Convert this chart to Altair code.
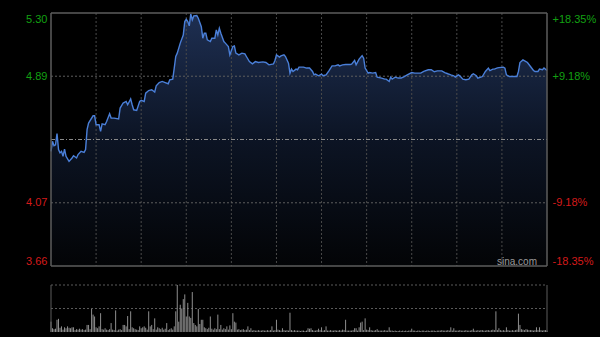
import altair as alt
import pandas as pd

# ---------------- data ----------------
minutes = [0, 1, 2, 3, 4, 5, 6, 7, 8, 9, 10, 12, 14, 15, 17, 18, 20, 22, 23, 24,
           25, 28, 29, 30, 32, 33, 34, 36, 37, 39, 40, 42, 45, 46, 48, 50, 51, 53, 54, 55,
           57, 59, 60, 62, 63, 65, 67, 69, 70, 72, 74, 76, 78, 79, 81, 82, 83, 84, 86, 88,
           89, 90, 91, 92, 93, 94, 95, 97, 98, 100, 101, 102, 103, 104, 106, 107, 109, 110, 111, 112,
           113, 115, 116, 118, 119, 121, 122, 123, 125, 127, 129, 130, 132, 134, 136, 138, 141, 143, 145, 148,
           149, 150, 152, 153, 155, 156, 158, 159, 160, 161, 163, 164, 165, 168, 170, 172, 174, 175, 176, 178,
           180, 181, 183, 185, 187, 189, 191, 192, 194, 196, 199, 200, 202, 203, 205, 207, 208, 209, 211, 212,
           214, 216, 217, 220, 222, 223, 225, 226, 227, 229, 231, 233, 235, 237, 240, 242, 244, 246, 248, 251,
           253, 255, 257, 260, 262, 264, 266, 268, 269, 271, 272, 274, 276, 278, 280, 281, 283, 284, 286, 287,
           289, 291, 292, 294, 295, 297, 298, 301, 302, 303, 305, 307, 310, 311, 312, 314, 316, 317, 319, 321,
           322, 324, 325, 327, 328, 330]

prices = [4.401, 4.466, 4.438, 4.444, 4.516, 4.412, 4.391, 4.401, 4.369, 4.416, 4.369, 4.336, 4.358, 4.373, 4.358, 4.380, 4.401, 4.394, 4.412, 4.542,
          4.585, 4.632, 4.632, 4.574, 4.574, 4.531, 4.580, 4.574, 4.595, 4.645, 4.617, 4.617, 4.611, 4.682, 4.715, 4.725, 4.704, 4.741, 4.704, 4.671,
          4.667, 4.725, 4.732, 4.725, 4.779, 4.796, 4.801, 4.786, 4.827, 4.848, 4.855, 4.848, 4.840, 4.866, 4.870, 4.942, 5.017, 5.039, 5.104, 5.157,
          5.244, 5.259, 5.244, 5.216, 5.294, 5.255, 5.281, 5.283, 5.266, 5.211, 5.136, 5.168, 5.168, 5.125, 5.114, 5.136, 5.136, 5.190, 5.157, 5.201,
          5.168, 5.114, 5.104, 5.082, 5.028, 5.082, 5.086, 5.039, 5.028, 5.039, 5.034, 5.017, 4.984, 4.969, 4.984, 4.978, 4.982, 4.978, 4.963, 4.969,
          4.991, 5.028, 5.013, 5.021, 5.028, 5.017, 4.974, 4.909, 4.935, 4.920, 4.935, 4.931, 4.948, 4.948, 4.942, 4.942, 4.920, 4.898, 4.903, 4.892,
          4.903, 4.892, 4.898, 4.926, 4.956, 4.956, 4.963, 4.956, 4.963, 4.965, 4.965, 4.967, 4.991, 4.963, 5.000, 5.023, 5.006, 4.942, 4.909, 4.913,
          4.909, 4.913, 4.883, 4.877, 4.870, 4.870, 4.855, 4.883, 4.870, 4.883, 4.877, 4.877, 4.887, 4.898, 4.913, 4.909, 4.909, 4.909, 4.920, 4.931,
          4.931, 4.918, 4.924, 4.924, 4.913, 4.905, 4.898, 4.892, 4.883, 4.898, 4.892, 4.870, 4.866, 4.870, 4.898, 4.905, 4.892, 4.877, 4.883, 4.887,
          4.920, 4.942, 4.926, 4.935, 4.935, 4.943, 4.945, 4.948, 4.942, 4.898, 4.887, 4.887, 4.887, 4.920, 4.978, 4.995, 4.984, 4.978, 4.952, 4.926,
          4.920, 4.920, 4.935, 4.931, 4.942, 4.926]

# volume per minute (minute index = position), relative units
volumes = [
    22, 8, 6, 7, 26, 28, 9, 12, 5, 10, 8, 12, 9, 8, 10, 10, 4, 6, 5, 7, 5, 6, 4, 5, 15, 15, 6, 49, 37, 33,
    10, 8, 12, 40, 6, 5, 8, 5, 4, 6, 19, 5, 4, 46, 3, 5, 6, 4, 15, 15, 12, 34, 6, 44, 10, 8, 6, 5, 4, 12,
    8, 10, 12, 9, 5, 44, 12, 15, 6, 29, 5, 10, 8, 6, 9, 5, 7, 19, 4, 6, 8, 5, 12, 44, 100, 22, 58, 50, 70, 80,
    33, 62, 33, 30, 85, 19, 15, 12, 49, 17, 26, 26, 10, 8, 6, 9, 33, 7, 5, 8, 6, 37, 6, 15, 5, 8, 6, 12, 5, 14,
    6, 40, 22, 20, 5, 6, 4, 5, 6, 4, 5, 12, 4, 8, 3, 4, 3, 3, 4, 3, 3, 4, 3, 3, 4, 3, 4, 12, 3, 4,
    26, 5, 4, 3, 8, 4, 3, 4, 3, 41, 4, 3, 4, 3, 3, 3, 2, 3, 3, 2, 3, 8, 7, 8, 4, 3, 3, 4, 7, 4,
    10, 3, 4, 12, 3, 3, 4, 3, 3, 4, 3, 3, 4, 3, 5, 4, 26, 3, 3, 3, 3, 4, 8, 8, 3, 10, 20, 22, 4, 29,
    5, 4, 10, 4, 3, 3, 4, 6, 3, 3, 3, 3, 4, 3, 3, 10, 3, 3, 2, 3, 2, 2, 3, 2, 3, 2, 3, 2, 3, 3,
    7, 3, 3, 2, 3, 3, 2, 3, 3, 2, 3, 3, 2, 3, 3, 3, 2, 3, 3, 3, 4, 3, 3, 3, 4, 3, 10, 3, 8, 3,
    3, 3, 4, 3, 3, 3, 4, 3, 3, 3, 4, 7, 3, 3, 4, 3, 4, 4, 3, 3, 4, 4, 3, 4, 5, 4, 44, 4, 8, 4,
    3, 4, 3, 10, 4, 3, 3, 4, 3, 4, 5, 39, 15, 6, 5, 4, 6, 5, 4, 4, 4, 3, 4, 10, 4, 10, 4, 3, 4, 4, 3]

prev_close = 4.478
pct_ticks = [18.35, 9.18, -9.18, -18.35]
grid_minutes = [30, 60, 90, 120, 150, 180, 210, 240, 270, 300]
session_span = [0, 330]
vol_grid = [50, 100]

# ---------------- layout ----------------
W, H = 496, 319          # whole drawing area (price panel + volume panel)
MAIN_H = 253             # price panel height
VOL_TOP = 272            # top of the volume panel, px from the top
price_ticks = [round(prev_close * (1 + p / 100), 4) for p in pct_ticks]
p_hi, p_lo = price_ticks[0], price_ticks[-1]
p_dom_lo = p_hi - (p_hi - p_lo) * H / MAIN_H
pct_dom_lo = pct_ticks[0] - (pct_ticks[0] - pct_ticks[-1]) * H / MAIN_H
vol_dom_hi = 100 * H / (H - VOL_TOP)

GREEN, RED = "#12a012", "#d41a1a"
FONT = "Liberation Sans"

xs = alt.Scale(domain=session_span, nice=False, zero=False)
ps = alt.Scale(domain=[p_dom_lo, p_hi], nice=False, zero=False)
pcs = alt.Scale(domain=[pct_dom_lo, pct_ticks[0]], nice=False, zero=False)
vs = alt.Scale(domain=[0, vol_dom_hi], nice=False, zero=False)

price_df = pd.DataFrame({"minute": minutes, "price": prices})
vol_df = pd.DataFrame({"minute": list(range(len(volumes))), "vol": volumes})
grid_df = pd.DataFrame({"minute": grid_minutes})
pct_df = pd.DataFrame({"pct": pct_ticks})
ptick_df = pd.DataFrame({"price": price_ticks})
span_df = pd.DataFrame({"minute": session_span})
volgrid_df = pd.DataFrame({"vol": vol_grid})
hgrid_df = pd.DataFrame({"price": [price_ticks[1], prev_close, price_ticks[2]]})

price_axis = alt.Axis(
    orient="left", values=price_ticks, format=".2f", title=None,
    grid=False, ticks=False, domain=False, labelPadding=4,
    labelFont=FONT, labelFontSize=11,
    labelColor={"condition": {"test": f"datum.value > {prev_close}", "value": GREEN}, "value": RED},
    labelBaseline={"condition": [{"test": f"datum.value > {p_hi - 0.01}", "value": "top"},
                                 {"test": f"datum.value < {p_lo + 0.01}", "value": "bottom"}],
                   "value": "middle"},
)

pct_axis = alt.Axis(
    orient="right", values=pct_ticks, title=None,
    labelExpr="(datum.value > 0 ? '+' : '-') + format(abs(datum.value), '.2f') + '%'",
    grid=False, ticks=False, domain=False, labelPadding=5,
    labelFont=FONT, labelFontSize=11,
    labelColor={"condition": {"test": "datum.value > 0", "value": GREEN}, "value": RED},
    labelBaseline={"condition": [{"test": f"datum.value > {pct_ticks[0] - 0.01}", "value": "top"},
                                 {"test": f"datum.value < {pct_ticks[-1] + 0.01}", "value": "bottom"}],
                   "value": "middle"},
)

X = alt.X("minute:Q", scale=xs, axis=None)

gradient = alt.LinearGradient(
    gradient="linear",
    stops=[alt.GradientStop(color="#1e2f52", offset=0),
           alt.GradientStop(color="#0c1424", offset=0.5),
           alt.GradientStop(color="#030406", offset=1)],
    x1=1, x2=1, y1=0, y2=1,
)

area = alt.Chart(price_df).mark_area(color=gradient).encode(
    x=X,
    y=alt.Y("price:Q", scale=ps, axis=None),
    y2=alt.datum(p_lo),
)
line = alt.Chart(price_df).mark_line(color="#4a7fd8", strokeWidth=1.4).encode(
    x=X, y=alt.Y("price:Q", scale=ps, axis=None)
)
vgrid = alt.Chart(grid_df).mark_rule(color="#4a4a4a", strokeDash=[2, 2], strokeWidth=1).encode(
    x=X, y=alt.YDatum(p_hi, scale=ps, axis=None), y2=alt.datum(p_lo)
)
hgrid = alt.Chart(hgrid_df).mark_rule(strokeWidth=1).encode(
    x=alt.XDatum(session_span[0], scale=xs, axis=None), x2=alt.datum(session_span[1]),
    y=alt.Y("price:Q", scale=ps, axis=None),
    strokeDash=alt.condition(f"abs(datum.price - {prev_close}) < 0.001", alt.value([4, 2, 1, 2]), alt.value([2, 2])),
    color=alt.condition(f"abs(datum.price - {prev_close}) < 0.001", alt.value("#8a8a8a"), alt.value("#5e5e5e")),
)
border = alt.Chart(span_df).mark_rect(fill=None, stroke="#5c5c5c", strokeWidth=1).encode(
    x=alt.XDatum(session_span[0], scale=xs, axis=None), x2=alt.datum(session_span[1]),
    y=alt.YDatum(p_hi, scale=ps, axis=None), y2=alt.datum(p_lo),
)
watermark = alt.Chart(span_df.head(1)).mark_text(
    text="sina.com", align="right", baseline="middle", font=FONT, fontSize=10, color="#9a9a9a"
).encode(x=alt.value(486), y=alt.value(249))

price_layer = alt.layer(area, vgrid, hgrid, line, border, watermark)

price_axis_layer = alt.Chart(ptick_df).mark_point(opacity=0).encode(
    x=alt.value(0), y=alt.Y("price:Q", scale=ps, axis=price_axis)
)
pct_layer = alt.Chart(pct_df).mark_point(opacity=0).encode(
    x=alt.value(0), y=alt.Y("pct:Q", scale=pcs, axis=pct_axis)
)

vol_bars = alt.Chart(vol_df).mark_rule(color="#8e8e8e", strokeWidth=1).encode(
    x=X, y=alt.Y("vol:Q", scale=vs, axis=None), y2=alt.datum(0)
)
vol_grid_rules = alt.Chart(volgrid_df).mark_rule(color="#5a5a5a", strokeDash=[2, 2]).encode(
    x=alt.XDatum(session_span[0], scale=xs, axis=None), x2=alt.datum(session_span[1]),
    y=alt.Y("vol:Q", scale=vs, axis=None),
)
vol_sides = alt.Chart(span_df).mark_rule(color="#5c5c5c").encode(
    x=X, y=alt.YDatum(0, scale=vs, axis=None), y2=alt.datum(vol_grid[-1])
)
vol_layer = alt.layer(vol_grid_rules, vol_bars, vol_sides)

chart = alt.layer(price_axis_layer, price_layer, pct_layer, vol_layer).resolve_scale(y="independent").properties(
    width=W, height=H,
    autosize=alt.AutoSizeParams(type="none"),
    padding={"left": 51, "top": 13, "right": 53, "bottom": 5},
    background="#000000",
).configure_view(strokeWidth=0)

chart.save("out.html", embed_options={"renderer": "svg", "actions": False})
